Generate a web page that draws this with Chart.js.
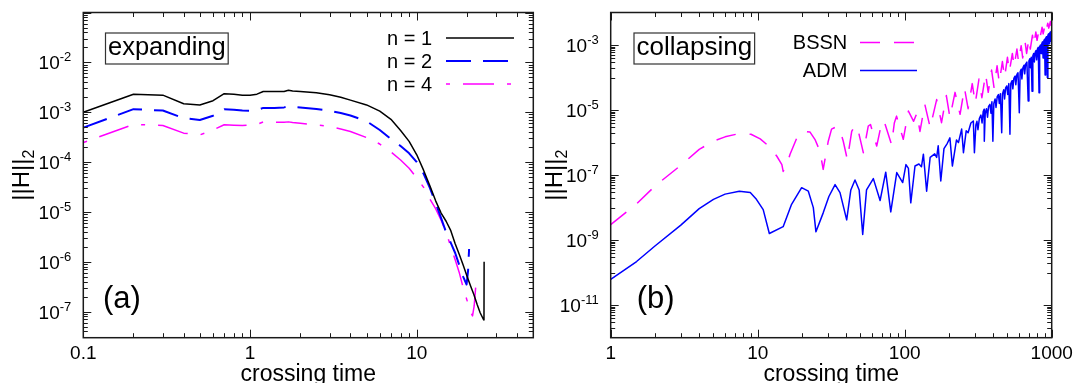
<!DOCTYPE html>
<html>
<head>
<meta charset="utf-8">
<script src="https://cdn.jsdelivr.net/npm/chart.js@4"></script>
<style>
  html, body { margin: 0; padding: 0; background: #fff; }
  #wrap { position: relative; width: 1084px; height: 383px; }
  canvas { position: absolute; top: 0; }
  #left { left: 0; }
  #right { left: 545px; }
</style>
</head>
<body>
<div id="wrap">
  <canvas id="left" width="545" height="383"></canvas>
  <canvas id="right" width="539" height="383"></canvas>
</div>
<script>
// ---- (a) expanding: ||H||_2 vs crossing time for three resolutions ----
const expTimeN1 = [0.1,0.2,0.3,0.4,0.5,0.6,0.7,0.8,0.9,1.0,1.1,1.2,1.4,1.6,1.7,1.8,2.0,2.5,3,3.5,4,5,6,7,8,9,10,11,12,13,14,15,16,17,18,19,20,21,22,23,24,25,25.3,25.35];
const expN1 = [1.0e-3,2.3e-3,2.2e-3,1.48e-3,1.4e-3,1.7e-3,2.35e-3,2.3e-3,2.2e-3,2.2e-3,2.3e-3,2.6e-3,2.6e-3,2.6e-3,2.75e-3,2.65e-3,2.6e-3,2.45e-3,2.25e-3,2.0e-3,1.75e-3,1.4e-3,1.05e-3,7.2e-4,4.3e-4,2.6e-4,1.4e-4,6.8e-5,3.3e-5,1.65e-5,9.5e-6,6.5e-6,4.2e-6,2.3e-6,1.4e-6,8.5e-7,5.2e-7,3.3e-7,2.2e-7,1.4e-7,9.5e-8,7.2e-8,6.8e-8,1.0e-6];

const expTimeN2 = [0.1,0.2,0.3,0.4,0.5,0.6,0.7,0.8,0.9,1.0,1.1,1.2,1.4,1.6,1.7,1.8,2.0,2.5,3,3.5,4,5,6,7,8,9,10,11,12,13,14,15,16,17,18,19,19.9,20.3,20.6];
const expN2 = [4.9e-4,1.15e-3,1.08e-3,7.6e-4,7.0e-4,8.5e-4,1.15e-3,1.12e-3,1.08e-3,1.07e-3,1.1e-3,1.22e-3,1.22e-3,1.25e-3,1.3e-3,1.27e-3,1.24e-3,1.16e-3,1.07e-3,9.6e-4,8.6e-4,6.6e-4,4.4e-4,2.9e-4,2.1e-4,1.5e-4,1.0e-4,5.8e-5,3.0e-5,1.5e-5,7.5e-6,3.9e-6,2.4e-6,1.5e-6,8.5e-7,5.0e-7,3.5e-7,6.5e-7,1.8e-6];

const expTimeN4 = [0.1,0.2,0.3,0.4,0.5,0.6,0.7,0.8,0.9,1.0,1.1,1.2,1.4,1.6,1.7,1.8,2.0,2.5,3,3.5,4,5,6,7,8,9,10,11,12,13,14,15,16,17,18,19,20,21,21.6,22.1,22.6];
const expN4 = [2.46e-4,5.7e-4,5.4e-4,3.8e-4,3.5e-4,4.4e-4,5.6e-4,5.5e-4,5.4e-4,5.5e-4,5.7e-4,6.4e-4,6.3e-4,6.3e-4,6.4e-4,6.2e-4,6.0e-4,5.6e-4,5.2e-4,4.6e-4,4.1e-4,3.1e-4,2.3e-4,1.6e-4,1.1e-4,7.5e-5,4.8e-5,3.1e-5,1.8e-5,1.15e-5,6.8e-6,3.9e-6,2.0e-6,1.1e-6,6.0e-7,3.0e-7,1.7e-7,1.0e-7,8.2e-8,1.3e-7,3.3e-7];

// ---- (b) collapsing: BSSN vs ADM ----
const colTimeADM = [1,1.5,2,3,4,5,6,7.5,8.9,9.8,10.9,12,14.9,17,19.9,22.1,23.9,24.9,27.9,30.5,33.6,36.3,40.3,43,45.9,49,51.8,55,61.2,68,74.3,80.4,88.3,96.9,102,106,110,117.5,125,130,134,141,149,160,165,169,176,185,195,203,211,225,232,244,251,262,270,282,293,298,
  305,310,315,322,330,336,342,347,348,353,360,366,372,380,386,392,398,404,412,418,426,434,440,448,457,463,472,478,486,495,502,511,520,527,537,544,553,563,570,580,590,602,610,620,627,637,648,655,665,678,692,700,710,717,726,735,744,754,762,772,782,790,800,810,820,828,838,846,856,866,874,884,894,902,910,920,928,934,942,952,960,968,978,985,992,997,1000];
const colADM = [6.2e-11,2.2e-10,6.6e-10,2.9e-9,9.3e-9,1.8e-8,2.6e-8,3.2e-8,2.9e-8,1.8e-8,8.7e-9,1.6e-9,2.6e-9,1.26e-8,4.1e-8,3.2e-8,1.0e-8,1.8e-9,6.9e-9,2.2e-8,5.1e-8,2.9e-8,4.2e-9,3.5e-8,7.1e-8,3.5e-8,1.5e-9,3.5e-8,7.8e-8,1.65e-8,1.23e-7,7.4e-9,1.2e-7,5.9e-8,2.1e-7,1.6e-7,1.4e-8,1.9e-7,2.2e-7,1.8e-7,4.4e-7,3.2e-8,3.5e-7,4.5e-7,3.5e-7,8.0e-7,6.6e-8,6.5e-7,9.5e-7,1.4e-6,1.9e-7,1.2e-6,1.0e-6,2.6e-6,4.9e-7,2.3e-6,2.0e-6,4.0e-6,4.6e-6,4.9e-7,
  3.5e-6,4.5e-6,2.5e-6,5.5e-6,7.0e-6,4.0e-6,9.0e-6,1.05e-5,1.1e-6,8.0e-6,1.1e-5,6.0e-6,1.3e-5,1.5e-5,8.0e-6,1.8e-5,1.1e-6,1.6e-5,2.2e-5,1.2e-5,2.6e-5,3.0e-5,1.6e-5,3.2e-5,2.0e-6,3.2e-5,4.2e-5,2.2e-5,4.8e-5,5.5e-5,3.0e-5,6.5e-5,1.8e-6,6.5e-5,8.0e-5,4.5e-5,9.5e-5,1.1e-4,6.0e-5,1.25e-4,1.4e-4,8.3e-6,1.5e-4,1.8e-4,9.0e-5,2.0e-4,2.4e-4,1.3e-4,2.6e-4,3.0e-4,1.9e-5,3.2e-4,3.8e-4,2.0e-4,4.2e-4,3.8e-5,4.6e-4,5.5e-4,3.0e-4,6.0e-4,6.8e-4,3.5e-4,7.5e-4,8.5e-4,3.4e-5,8.8e-4,1.0e-3,5.5e-4,1.1e-3,1.25e-3,4.0e-4,1.35e-3,1.5e-3,1.2e-4,1.6e-3,1.8e-3,9.0e-4,1.0e-4,2.0e-3,2.2e-3,1.1e-3,2.3e-3,2.5e-3,1.3e-3,2.6e-3,1.5e-3,2.8e-3];

const colTimeBSSN = [1,1.5,2,3,4,5,6,7.5,9,10.4,12,13.5,14.6,14.9,15.7,16.6,18.9,21,22.7,24.5,26.5,27.9,30.2,31.8,34.4,36.5,38.2,40.7,43.6,45.9,48,52.3,56.5,58.5,64.5,70,72.4,81.4,85,88,97.8,106,115,121,127,137,149,165,178,192,203,220,238,255,270,288,302,320,335,355,370,390,405,425,440,462,478,500,515,540,555,580,595,620,635,660,675,700,715,740,755,780,795,820,835,860,875,900,915,940,955,980,990,1000];
const colBSSN = [3.0e-9,1.3e-8,4.6e-8,2.0e-7,6.2e-7,1.1e-6,1.5e-6,1.9e-6,1.8e-6,1.3e-6,7.5e-7,3.8e-7,2.1e-7,1.3e-7,1.9e-7,4.4e-7,1.8e-6,2.2e-6,2.1e-6,1.26e-6,5.5e-7,1.5e-7,1.1e-6,2.6e-6,3.1e-6,2.2e-6,1.1e-6,3.0e-7,2.2e-6,3.4e-6,2.6e-6,4.9e-7,3.2e-6,3.6e-6,7.8e-7,4.4e-6,4.6e-6,8.7e-7,4.0e-6,6.5e-6,1.26e-6,9.3e-6,4.5e-6,8.0e-6,2.2e-6,1.5e-5,2.9e-6,2.1e-5,4.1e-6,2.8e-5,5.9e-6,3.5e-5,7.4e-6,4.8e-5,1.1e-5,6.5e-5,1.6e-5,9.0e-5,2.4e-5,1.3e-4,3.5e-5,1.7e-4,5.0e-5,2.3e-4,7.0e-5,3.1e-4,1.0e-4,4.2e-4,1.5e-4,5.5e-4,2.2e-4,7.5e-4,3.0e-4,9.5e-4,4.0e-4,1.2e-3,5.5e-4,1.6e-3,7.5e-4,2.0e-3,1.0e-3,2.5e-3,1.4e-3,3.0e-3,1.8e-3,3.5e-3,2.2e-3,4.1e-3,2.7e-3,4.7e-3,3.3e-3,5.3e-3,4.0e-3,5.6e-3];

// ---- axis ticks and labels ----
const expXTicks = [0.1, 1, 10];
const expXTickLabels = ["0.1", "1", "10"];
const expYTicks = [1e-7, 1e-6, 1e-5, 1e-4, 1e-3, 1e-2];
const expYTickExps = ["-7", "-6", "-5", "-4", "-3", "-2"];

const colXTicks = [1, 10, 100, 1000];
const colXTickLabels = ["1", "10", "100", "1000"];
const colYTicks = [1e-11, 1e-9, 1e-7, 1e-5, 1e-3];
const colYTickExps = ["-11", "-9", "-7", "-5", "-3"];

const FONT = '"Liberation Sans", Arial, Helvetica, sans-serif';
const INK = '#1a1a1a';

const pts = (xs, ys) => xs.map((x, i) => ({ x, y: ys[i] }));

// minor ticks: k * 10^d for k = 2..9 (or 1..9 below every labelled decade)
function minorTicks(decades, ks, min, max) {
  const out = [];
  decades.forEach(d => ks.forEach(k => {
    const v = k * d;
    if (v > min * 1.0001 && v < max * 0.9999) out.push(v);
  }));
  return out;
}

function supLabel(ctx, exp, xRight, yMid) {
  ctx.font = '19px ' + FONT;
  const wBase = ctx.measureText('10').width;
  ctx.font = '13px ' + FONT;
  const wExp = ctx.measureText(exp).width;
  const x0 = xRight - wBase - wExp;
  ctx.textAlign = 'left';
  ctx.textBaseline = 'alphabetic';
  ctx.font = '19px ' + FONT;
  ctx.fillText('10', x0, yMid + 7);
  ctx.font = '13px ' + FONT;
  ctx.fillText(exp, x0 + wBase, yMid - 1);
}

const axesFrame = {
  id: 'axesFrame',
  afterDatasetsDraw(chart, args, o) {
    const { ctx, chartArea: a, scales: { x, y } } = chart;
    ctx.save();
    ctx.strokeStyle = INK;
    ctx.fillStyle = '#000';
    ctx.lineWidth = 1;
    const seg = (x1, y1, x2, y2) => { ctx.beginPath(); ctx.moveTo(x1, y1); ctx.lineTo(x2, y2); ctx.stroke(); };

    const xt = (v, len) => { const p = Math.round(x.getPixelForValue(v)) + 0.5; seg(p, a.bottom, p, a.bottom - len); seg(p, a.top, p, a.top + len); };
    const yt = (v, len) => { const p = Math.round(y.getPixelForValue(v)) + 0.5; seg(a.left, p, a.left + len, p); seg(a.right, p, a.right - len, p); };
    o.xMajor.forEach(v => xt(v, 8));
    o.xMinor.forEach(v => xt(v, 4.5));
    o.yMajor.forEach(v => yt(v, 8));
    o.yMinor.forEach(v => yt(v, 4.5));

    ctx.lineWidth = 1.5;
    ctx.strokeRect(a.left, a.top, a.right - a.left, a.bottom - a.top);

    // tick labels
    ctx.font = '19px ' + FONT;
    ctx.textAlign = 'center';
    ctx.textBaseline = 'alphabetic';
    o.xLabelTicks.forEach((v, i) => ctx.fillText(o.xLabels[i], x.getPixelForValue(v), 359));
    o.yLabelTicks.forEach((v, i) => supLabel(ctx, o.yExps[i], a.left - 12, y.getPixelForValue(v)));

    // axis titles
    ctx.font = '23px ' + FONT;
    ctx.textAlign = 'center';
    ctx.fillText('crossing time', (a.left + a.right) / 2, 381);

    ctx.save();
    ctx.translate(o.yTitleX, (a.top + a.bottom) / 2);
    ctx.rotate(-Math.PI / 2);
    ctx.font = '24px ' + FONT;
    const wH = ctx.measureText('||H||').width;
    ctx.font = '16px ' + FONT;
    const w2 = ctx.measureText('2').width;
    const x0 = -(wH + w2) / 2;
    ctx.textAlign = 'left';
    ctx.font = '24px ' + FONT;
    ctx.fillText('||H||', x0, 6);
    ctx.font = '16px ' + FONT;
    ctx.fillText('2', x0 + wH, 11);
    ctx.restore();

    // boxed panel name
    ctx.font = o.boxFont + 'px ' + FONT;
    ctx.textAlign = 'left';
    ctx.textBaseline = 'middle';
    const bw = ctx.measureText(o.boxText).width;
    ctx.lineWidth = 1.2;
    ctx.strokeStyle = '#333';
    ctx.strokeRect(o.boxX, o.boxY, bw + 5, 31);
    ctx.fillText(o.boxText, o.boxX + 2.5, o.boxY + 14.5);

    // panel letter
    ctx.font = '31px ' + FONT;
    ctx.textBaseline = 'alphabetic';
    ctx.fillText(o.letter, o.letterX, 308);

    // key
    ctx.font = '20px ' + FONT;
    chart.data.datasets.forEach((ds, i) => {
      const ry = o.keyY + i * o.keyStep;
      ctx.textAlign = 'right';
      ctx.textBaseline = 'middle';
      ctx.fillStyle = '#000';
      ctx.fillText(ds.label, o.keyTextX, ry + 1);
      ctx.save();
      ctx.strokeStyle = ds.borderColor;
      ctx.lineWidth = ds.borderWidth;
      ctx.setLineDash(ds.borderDash || []);
      ctx.lineDashOffset = ds.borderDashOffset || 0;
      seg(o.keyLineX[0], ry, o.keyLineX[1], ry);
      ctx.restore();
    });
    ctx.restore();
  }
};

function makeChart(id, datasets, xr, yr, pad, frame) {
  return new Chart(document.getElementById(id), {
    type: 'line',
    data: { datasets },
    options: {
      responsive: false,
      animation: false,
      events: [],
      layout: { padding: pad },
      elements: { point: { radius: 0 }, line: { tension: 0, borderJoinStyle: 'round' } },
      scales: {
        x: { type: 'logarithmic', min: xr[0], max: xr[1], display: false },
        y: { type: 'logarithmic', min: yr[0], max: yr[1], display: false }
      },
      plugins: { legend: { display: false }, tooltip: { enabled: false }, axesFrame: frame }
    },
    plugins: [axesFrame]
  });
}

// panel (a)
const expXRange = [0.1, 50];
const expYRange = [Math.pow(10, -7.51), 0.1];
makeChart('left', [
  { label: 'n = 1', data: pts(expTimeN1, expN1), borderColor: '#000000', borderWidth: 1.5 },
  { label: 'n = 2', data: pts(expTimeN2, expN2), borderColor: '#0000ff', borderWidth: 2, borderDash: [25, 12] },
  { label: 'n = 4', data: pts(expTimeN4, expN4), borderColor: '#ff00ff', borderWidth: 1.5, borderDash: [4, 13, 31, 13] }
], expXRange, expYRange, { left: 83.3, right: 11.7, top: 12.5, bottom: 45.3 }, {
  xMajor: [0.1, 1, 10],
  xMinor: minorTicks([0.1, 1, 10], [2, 3, 4, 5, 6, 7, 8, 9], expXRange[0], expXRange[1]),
  yMajor: [1e-7, 1e-6, 1e-5, 1e-4, 1e-3, 1e-2, 1e-1],
  yMinor: minorTicks([1e-8, 1e-7, 1e-6, 1e-5, 1e-4, 1e-3, 1e-2], [2, 3, 4, 5, 6, 7, 8, 9], expYRange[0], expYRange[1]),
  xLabelTicks: expXTicks, xLabels: expXTickLabels,
  yLabelTicks: expYTicks, yExps: expYTickExps,
  yTitleX: 22.5,
  boxText: 'expanding', boxFont: 25.5, boxX: 105.5, boxY: 33,
  letter: '(a)', letterX: 103,
  keyY: 38, keyStep: 23, keyTextX: 432, keyLineX: [446, 514]
});

// panel (b)
const colXRange = [1, 1000];
const colYRange = [1e-12, 1e-2];
makeChart('right', [
  { label: 'BSSN', data: pts(colTimeBSSN, colBSSN), borderColor: '#ff00ff', borderWidth: 1.5, borderDash: [20, 14] },
  { label: 'ADM', data: pts(colTimeADM, colADM), borderColor: '#0000ff', borderWidth: 1.5 }
], colXRange, colYRange, { left: 65.7, right: 32.3, top: 12.5, bottom: 45.3 }, {
  xMajor: [1, 10, 100, 1000],
  xMinor: minorTicks([1, 10, 100], [2, 3, 4, 5, 6, 7, 8, 9], colXRange[0], colXRange[1]),
  yMajor: [1e-11, 1e-9, 1e-7, 1e-5, 1e-3],
  yMinor: minorTicks([1e-12, 1e-10, 1e-8, 1e-6, 1e-4], [1, 2, 3, 4, 5, 6, 7, 8, 9], colYRange[0], colYRange[1]),
  xLabelTicks: colXTicks, xLabels: colXTickLabels,
  yLabelTicks: colYTicks, yExps: colYTickExps,
  yTitleX: 11,
  boxText: 'collapsing', boxFont: 26, boxX: 89, boxY: 33,
  letter: '(b)', letterX: 91.7,
  keyY: 42.5, keyStep: 28, keyTextX: 302.3, keyLineX: [315, 372]
});
</script>
</body>
</html>
